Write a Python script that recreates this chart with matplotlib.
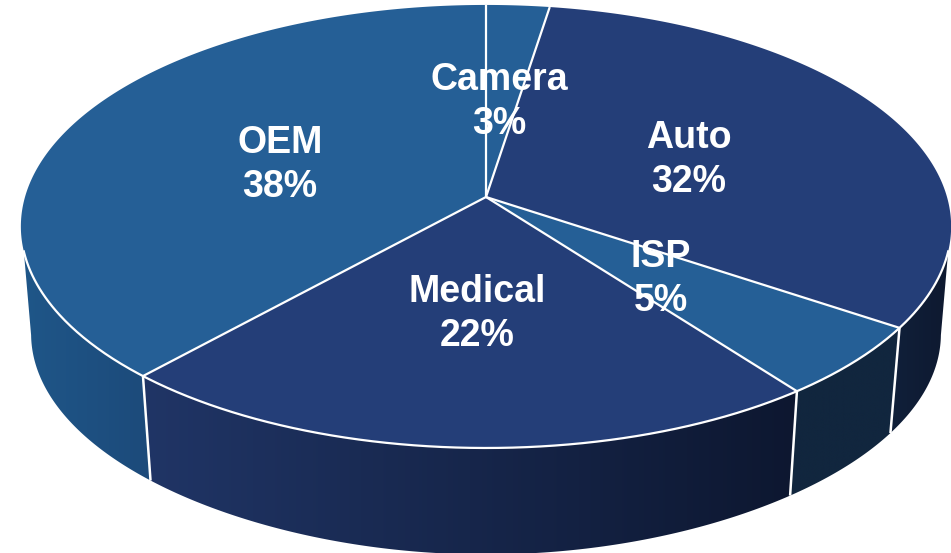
import numpy as np
import matplotlib
matplotlib.use('Agg')
import matplotlib.pyplot as plt
from matplotlib.patches import Polygon

names = ['Camera', 'Auto', 'ISP', 'Medical', 'OEM']
shares = [2.5, 31.9, 5.3, 22.0, 38.3]
share_labels = ['3%', '32%', '5%', '22%', '38%']
top_colors = ['#255f96', '#243e78', '#255f96', '#243e78', '#255f96']
wall_left = ['#255f96', '#10203a', '#11263e', '#203566', '#1f5688']
wall_right = ['#255f96', '#0e1930', '#11263e', '#0d1730', '#1c4a7a']

# pie geometry in pixels
cx, cy = 486, 197
a, b, k = 461, 217.6, 0.133
bottom_scale, depth, sag = 0.978, 108, 4

plt.rcParams['font.family'] = ['Liberation Sans', 'DejaVu Sans']


def top_edge(theta):
    # clockwise from 12 o'clock, with some perspective
    u, v = np.sin(theta), np.cos(theta)
    return cx + a * u / (1 + k * v), cy - b * v / (1 + k * v)


def bottom_edge(theta):
    x, y = top_edge(theta)
    return (cx + bottom_scale * (x - cx),
            cy + depth + bottom_scale * (y - cy) + sag * np.cos(theta) ** 8)


fig = plt.figure(figsize=(9.51, 5.53), dpi=100)
ax = fig.add_axes([0, 0, 1, 1])
ax.set_xlim(0, 951)
ax.set_ylim(553, 0)
ax.axis('off')

bounds = np.radians(np.cumsum([0] + shares) * 3.6)

# where the wall starts and stops, top rim and bottom rim differ a bit
top_from, top_to = np.radians(104), np.radians(256)
bot_from, bot_to = np.radians(98), np.radians(262)

# side walls first, only the front half is visible
for i in range(len(names)):
    t1 = np.linspace(max(bounds[i], top_from), min(bounds[i + 1], top_to), 120)
    t2 = np.linspace(max(bounds[i], bot_from), min(bounds[i + 1], bot_to), 120)
    if t2[-1] <= t2[0]:
        continue
    xt, yt = top_edge(t1)
    xb, yb = bottom_edge(t2)
    pts = np.column_stack([np.r_[xt, xb[::-1]], np.r_[yt, yb[::-1]]])
    clip = Polygon(pts, closed=True, transform=ax.transData, fc='none', ec='none')
    ax.add_patch(clip)
    c1 = matplotlib.colors.to_rgb(wall_left[i])
    c2 = matplotlib.colors.to_rgb(wall_right[i])
    grad = np.linspace(0, 1, 256)[None, :, None]
    img = np.array(c1)[None, None, :] * (1 - grad) + np.array(c2)[None, None, :] * grad
    im = ax.imshow(img, extent=[pts[:, 0].min(), pts[:, 0].max(), pts[:, 1].max(), pts[:, 1].min()],
                   aspect='auto', zorder=1, interpolation='bilinear')
    im.set_clip_path(clip)

ax.set_xlim(0, 951)
ax.set_ylim(553, 0)

# white lines down the wall at each visible slice boundary
for th in bounds[:-1]:
    if np.radians(90) < th < np.radians(270):
        x1, y1 = top_edge(th)
        x2, y2 = bottom_edge(th)
        ax.plot([x1, x2], [y1, y2], color='white', lw=1.8, zorder=2, solid_capstyle='butt')

# top slices
for i in range(len(names)):
    t = np.linspace(bounds[i], bounds[i + 1], 200)
    xt, yt = top_edge(t)
    ax.fill(np.r_[cx, xt], np.r_[cy, yt], color=top_colors[i], ec='none', zorder=3)

for i in range(len(names)):
    x, y = top_edge(bounds[i])
    ax.plot([cx, x], [cy, y], color='white', lw=1.6, zorder=4, solid_capstyle='butt')

# white rim along the front only
t = np.linspace(top_from, top_to, 400)
xt, yt = top_edge(t)
ax.plot(xt, yt, color='white', lw=1.6, zorder=4)

label_pos = [(499, 102), (689, 160), (661, 279), (477, 314), (280, 165)]
for i in range(len(names)):
    ax.text(label_pos[i][0], label_pos[i][1], names[i] + '\n' + share_labels[i], color='white',
            fontsize=27, fontweight='bold', ha='center', va='center', linespacing=1.27, zorder=5)

fig.savefig('out.png', dpi=100)
